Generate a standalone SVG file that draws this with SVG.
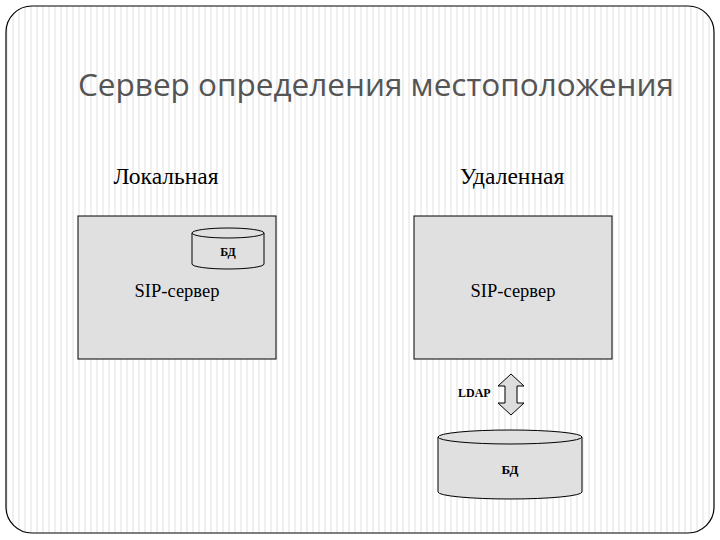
<svg xmlns="http://www.w3.org/2000/svg" width="720" height="540" viewBox="0 0 720 540">
<defs>
<pattern id="st" width="6" height="10" patternUnits="userSpaceOnUse"><rect width="6" height="10" fill="#fff"/><rect x="0" width="2" height="10" fill="#f0f0f0"/></pattern>
<style>
.box{fill:#e0e0e0;stroke:#000;stroke-width:1}
.cyl{fill:#e0e0e0;stroke:#000;stroke-width:1}
.t{font-family:"Liberation Serif",serif;fill:#000}
</style>
</defs>
<rect width="720" height="540" fill="#fff"/>
<rect x="6" y="6" width="708" height="527" rx="26" fill="url(#st)" stroke="#000" stroke-width="1.2"/>
<text x="78" y="96" font-family="'Open Sans','Noto Sans',sans-serif" font-size="31.5" fill="#555">Сервер определения местоположения</text>
<text class="t" x="166" y="184" font-size="23.5" text-anchor="middle">Локальная</text>
<text class="t" x="512" y="184" font-size="23.5" text-anchor="middle">Удаленная</text>
<g id="local">
<rect class="box" x="78" y="216" width="198" height="143"/>
<text class="t" x="177" y="297" font-size="18.5" text-anchor="middle">SIP-сервер</text>
</g>
<g id="db1">
<path class="cyl" d="M192 233 L192 264 A36 5 0 0 0 264 264 L264 233"/>
<ellipse class="cyl" cx="228" cy="233" rx="36" ry="5"/>
<text class="t" x="228" y="256" font-size="12" font-weight="bold" text-anchor="middle">БД</text>
</g>
<g id="remote">
<rect class="box" x="414" y="216" width="198" height="143"/>
<text class="t" x="513" y="297" font-size="18.5" text-anchor="middle">SIP-сервер</text>
</g>
<g id="connectors">
<path d="M511 374 L524 386 L517 386 L517 403 L524 403 L511 415 L498 403 L505 403 L505 386 L498 386 Z" fill="#ddd" stroke="#000"/>
<text class="t" x="458" y="397" font-size="12" font-weight="bold">LDAP</text>
</g>
<g id="db2">
<path class="cyl" d="M438 437 L438 492 A72 7 0 0 0 582 492 L582 437"/>
<ellipse class="cyl" cx="510" cy="437" rx="72" ry="7"/>
<text class="t" x="510" y="474" font-size="13" font-weight="bold" text-anchor="middle">БД</text>
</g>
</svg>
